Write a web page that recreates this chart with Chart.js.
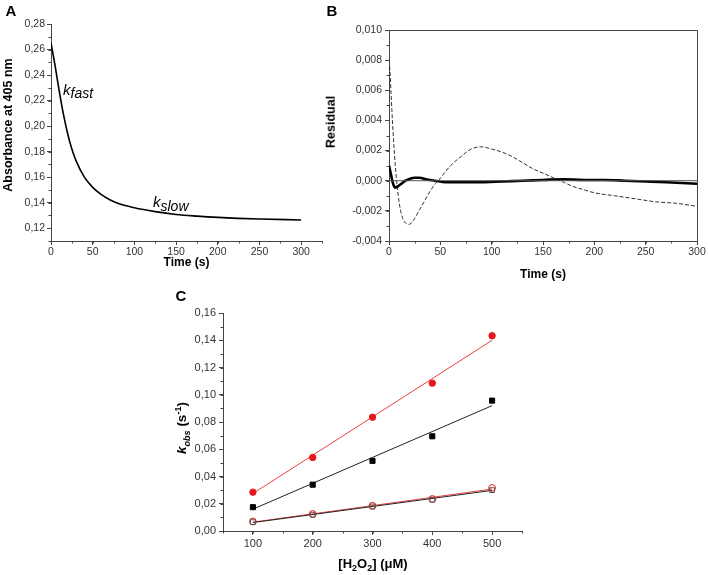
<!DOCTYPE html>
<html>
<head>
<meta charset="utf-8">
<script src="https://cdn.jsdelivr.net/npm/chart.js@4.4.1/dist/chart.umd.min.js"></script>
<style>
body { margin: 0; background: #fff; font-family: "Liberation Sans", Arial, sans-serif; }
#wrap { position: relative; width: 708px; height: 575px; }
.box { position: absolute; }
.t { position: absolute; line-height: 1; white-space: nowrap; color: #000; }
.c { transform: translate(-50%, -50%); }
.r { transform: translate(-50%, -50%) rotate(-90deg); }
.b { font-weight: bold; }
.k { font-style: italic; font-size: 15px; }
.k span { font-size: 14px; position: relative; }
</style>
</head>
<body>
<div id="wrap">
  <div class="box" style="left:0;top:0;width:340px;height:280px"><canvas id="chartA"></canvas></div>
  <div class="box" style="left:340px;top:0;width:368px;height:282px"><canvas id="chartB"></canvas></div>
  <div class="box" style="left:160px;top:280px;width:400px;height:295px"><canvas id="chartC"></canvas></div>

  <div class="t c b" style="left:11px;top:10px;font-size:15px">A</div>
  <div class="t c b" style="left:332px;top:10px;font-size:15px">B</div>
  <div class="t c b" style="left:181px;top:295px;font-size:15px">C</div>

  <div class="t r b" style="left:8px;top:125px;font-size:12.5px">Absorbance at 405 nm</div>
  <div class="t r b" style="left:331px;top:122px;font-size:12.5px">Residual</div>

  <div class="t k" style="left:63px;top:82px">k<span style="top:3px">fast</span></div>
  <div class="t k" style="left:153px;top:194px">k<span style="top:4px">slow</span></div>

  <div class="t r b" style="left:183px;top:428px;font-size:13.5px"><i>k</i><sub style="font-size:9px;font-style:italic">obs</sub> (s<sup style="font-size:9px">-1</sup>)</div>
  <div class="t c b" style="left:373px;top:565px;font-size:13px">[H<sub style="font-size:9px">2</sub>O<sub style="font-size:9px">2</sub>] (μM)</div>
</div>

<script>
// panel A: absorbance trace
const timeA = [0, 2, 5, 10, 15, 20, 25, 30, 40, 50, 60, 70, 80, 100, 125, 150, 175, 200, 250, 300];
const absA = [0.265, 0.258, 0.247, 0.227, 0.209, 0.194, 0.182, 0.173, 0.160, 0.152, 0.1465, 0.1425, 0.1395, 0.136, 0.133, 0.1308, 0.1295, 0.1285, 0.1272, 0.1265];

// panel B: residuals (single exponential = dashed, double = solid)
const timeRes1 = [0, 1, 2, 3, 4, 5, 6, 7, 8, 10, 12, 14, 16, 19, 22, 25, 30, 35, 40, 45, 48, 55, 60, 70, 80, 90, 100, 110, 120, 130, 140, 150, 160, 170, 180, 190, 200, 220, 240, 260, 280, 300];
const res1 = [0.0080, 0.0072, 0.0058, 0.0044, 0.0032, 0.0021, 0.0011, 0.0003, -0.0004, -0.0015, -0.0022, -0.0026, -0.0028, -0.0029, -0.0028, -0.0025, -0.0019, -0.0013, -0.0007, -0.0002, 0.0, 0.0006, 0.0010, 0.0016, 0.0021, 0.00225, 0.0021, 0.0019, 0.0016, 0.0012, 0.0008, 0.0005, 0.0002, -0.0001, -0.0004, -0.0006, -0.0008, -0.0010, -0.0012, -0.0014, -0.0015, -0.0017];
const timeRes2 = [0, 2, 4, 6, 8, 12, 16, 20, 25, 30, 35, 40, 45, 55, 70, 90, 110, 130, 150, 170, 190, 210, 230, 250, 270, 300];
const res2 = [0.0010, 0.0004, -0.0002, -0.00045, -0.0004, -0.0002, 0.0, 0.00012, 0.0002, 0.0002, 0.00012, 0.00005, 0.0, -0.0001, -0.0001, -0.0001, -0.00005, 0.0, 0.00005, 0.0001, 0.00005, 0.00005, 0.0, -0.00005, -0.0001, -0.0002];
const zeroX = [0, 300];
const zeroY = [0, 0];

// panel C: kobs vs [H2O2]
const conc = [100, 200, 300, 400, 500];
const kFastRed = [0.0285, 0.054, 0.0835, 0.1085, 0.1433];
const kFastBlack = [0.0175, 0.034, 0.0515, 0.0695, 0.0957];
const kSlowRed = [0.007, 0.0125, 0.0185, 0.0235, 0.0316];
const kSlowBlack = [0.0065, 0.012, 0.018, 0.023, 0.030];
const fitX = [100, 500];
const fitFastRed = [0.0275, 0.140];
const fitFastBlack = [0.016, 0.092];
const fitSlowRed = [0.0065, 0.0308];
const fitSlowBlack = [0.0062, 0.0298];

// tick labels
const ticksTime = [0, 50, 100, 150, 200, 250, 300];
const ticksAbs = [0.12, 0.14, 0.16, 0.18, 0.20, 0.22, 0.24, 0.26, 0.28];
const ticksRes = [-0.004, -0.002, 0, 0.002, 0.004, 0.006, 0.008, 0.010];
const ticksConc = [100, 200, 300, 400, 500];
const ticksK = [0, 0.02, 0.04, 0.06, 0.08, 0.10, 0.12, 0.14, 0.16];

const FONT = '"Liberation Sans", Arial, sans-serif';
const axisColor = '#444';
const red = '#e8161d';

const pts = (xs, ys) => xs.map((x, i) => ({x: x, y: ys[i]}));
const comma = d => v => v.toFixed(d).replace('.', ',');

function axis(min, max, ticks, fmt, size, fit, pad, title, titlePad) {
    return {
        type: 'linear',
        min: min,
        max: max,
        afterBuildTicks: s => { s.ticks = ticks.map(v => ({value: v})); },
        afterFit: s => { if (s.isHorizontal()) s.height = fit; else s.width = fit; },
        border: {display: true, color: axisColor, width: 1},
        grid: {drawOnChartArea: false, color: axisColor, tickLength: 4, tickWidth: 1},
        ticks: {color: '#333', font: {family: FONT, size: size}, padding: pad, callback: fmt, maxRotation: 0, autoSkip: false},
        title: title ? {display: true, text: title, color: '#000', font: {family: FONT, size: 12, weight: 'bold'}, padding: {top: 0, bottom: titlePad}} : {display: false}
    };
}

// short minor ticks between the labelled ones
const minorTicks = {
    id: 'minorTicks',
    afterDraw(chart, args, opts) {
        const ctx = chart.ctx, a = chart.chartArea;
        ctx.save();
        ctx.strokeStyle = axisColor;
        ctx.lineWidth = 1;
        ['x', 'y'].forEach(id => {
            const s = chart.scales[id], step = opts[id];
            if (!step) return;
            const n = Math.round((s.max - s.min) / step);
            for (let i = 0; i <= n; i++) {
                const p = Math.round(s.getPixelForValue(s.min + i * step)) + 0.5;
                ctx.beginPath();
                if (id === 'x') { ctx.moveTo(p, a.bottom); ctx.lineTo(p, a.bottom + 2.5); }
                else { ctx.moveTo(a.left, p); ctx.lineTo(a.left - 2.5, p); }
                ctx.stroke();
            }
        });
        if (opts.frame) {
            ctx.beginPath();
            ctx.moveTo(a.left, Math.round(a.top) + 0.5);
            ctx.lineTo(Math.round(a.right) + 0.5, Math.round(a.top) + 0.5);
            ctx.lineTo(Math.round(a.right) + 0.5, a.bottom);
            ctx.stroke();
        }
        ctx.restore();
    }
};

function options(padding, x, y, minor) {
    return {
        responsive: true,
        maintainAspectRatio: false,
        animation: false,
        layout: {padding: padding},
        scales: {x: x, y: y},
        plugins: {legend: {display: false}, tooltip: {enabled: false}, minorTicks: minor}
    };
}

new Chart(document.getElementById('chartA'), {
    type: 'scatter',
    data: {
        datasets: [{
            data: pts(timeA, absA), showLine: true, borderColor: '#000', borderWidth: 1.6,
            pointRadius: 0, cubicInterpolationMode: 'monotone'
        }]
    },
    options: options({left: 0, top: 24, right: 18, bottom: 0},
        axis(0, 325, ticksTime, v => String(v), 10.5, 39, 1, 'Time (s)', 9.8),
        axis(0.11, 0.28, ticksAbs, comma(2), 10.5, 51, 2),
        {x: 25, y: 0.01}),
    plugins: [minorTicks]
});

new Chart(document.getElementById('chartB'), {
    type: 'scatter',
    data: {
        datasets: [
            {data: pts(zeroX, zeroY), showLine: true, borderColor: '#555', borderWidth: 1, pointRadius: 0},
            {data: pts(timeRes2, res2), showLine: true, borderColor: '#000', borderWidth: 2.6, pointRadius: 0, cubicInterpolationMode: 'monotone'},
            {data: pts(timeRes1, res1), showLine: true, borderColor: '#333', borderWidth: 1, borderDash: [4, 2], pointRadius: 0, cubicInterpolationMode: 'monotone'}
        ]
    },
    options: options({left: 0, top: 30, right: 11, bottom: 0},
        axis(0, 300, ticksTime, v => String(v), 10.5, 41, 1, 'Time (s)', 0),
        axis(-0.004, 0.010, ticksRes, comma(3), 10.5, 49, 3),
        {x: 25, y: 0.001, frame: true}),
    plugins: [minorTicks]
});

function fitLine(ys, color) {
    return {data: pts(fitX, ys), showLine: true, borderColor: color, borderWidth: 1, pointRadius: 0, order: 2};
}
function marks(ys, style, fill, stroke, r) {
    return {data: pts(conc, ys), showLine: false, pointStyle: style, pointRadius: r,
        pointBackgroundColor: fill, pointBorderColor: stroke, pointBorderWidth: 1, order: 1};
}

new Chart(document.getElementById('chartC'), {
    type: 'scatter',
    data: {
        datasets: [
            fitLine(fitFastRed, '#e8413f'),
            fitLine(fitFastBlack, '#222'),
            fitLine(fitSlowBlack, '#222'),
            fitLine(fitSlowRed, '#e8413f'),
            marks(kFastRed, 'circle', red, red, 3.2),
            marks(kFastBlack, 'rect', '#000', '#000', 3.6),
            marks(kSlowBlack, 'rect', 'rgba(0,0,0,0)', '#555', 3.4),
            marks(kSlowRed, 'circle', 'rgba(0,0,0,0)', red, 3.4)
        ]
    },
    options: options({left: 0, top: 33, right: 38, bottom: 0},
        axis(50, 550, ticksConc, v => String(v), 11, 44, 2),
        axis(0, 0.16, ticksK, comma(2), 11, 63, 3),
        {x: 50, y: 0.01}),
    plugins: [minorTicks]
});
</script>
</body>
</html>
